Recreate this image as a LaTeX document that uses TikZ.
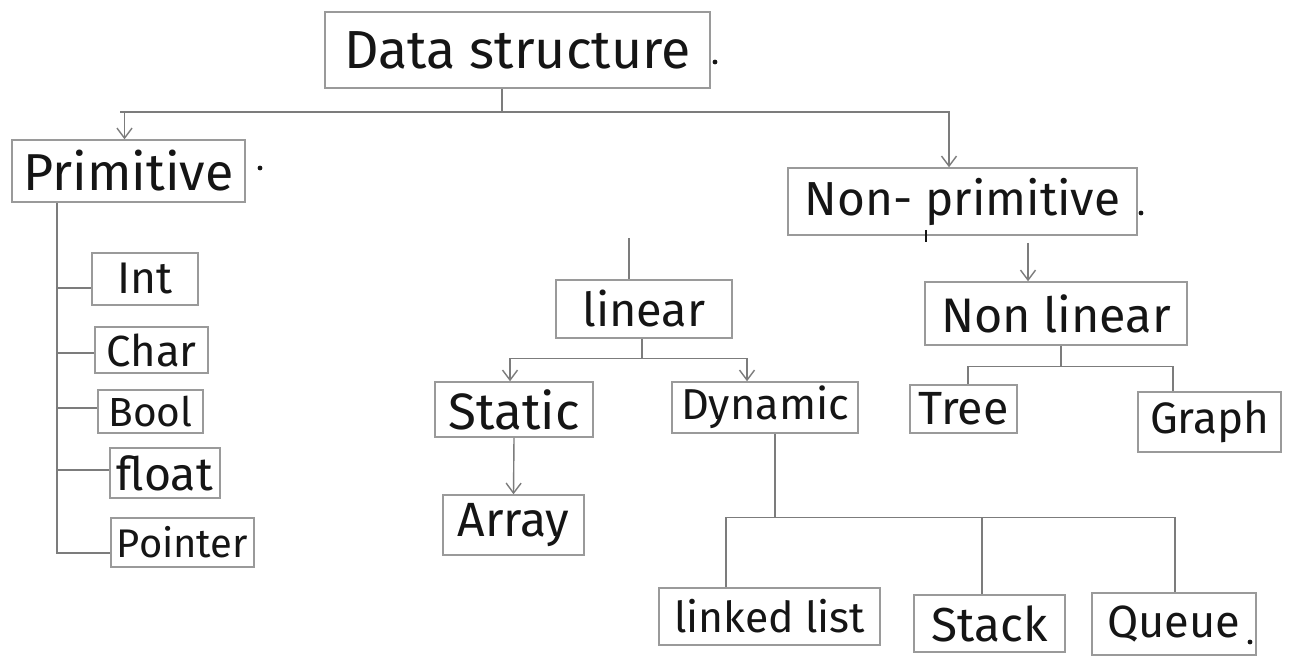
\documentclass[tikz,border=0pt]{standalone}
\usepackage{fontspec}
\setmainfont{Fira Sans}
\usepackage{graphicx}
\usetikzlibrary{arrows.meta}

\definecolor{ink}{HTML}{151515}
\definecolor{pencil}{HTML}{9A9A9A}
\definecolor{lead}{HTML}{7C7C7C}

% label scaled to a given width (in pt)
\newcommand\handw[2]{\resizebox{#1pt}{!}{#2}}

\tikzset{
  box/.style={draw=pencil, line width=1.5pt, inner sep=0pt, text=ink},
  link/.style={draw=lead, line width=1.4pt},
  arr/.style={link, -{Straight Barb[length=10pt,width=15pt,line width=1.4pt]}},
}

\begin{document}
\begin{tikzpicture}[x=1pt,y=-1pt]
\useasboundingbox[fill=white] (0,0) rectangle (1291,659);

% ---- boxes ----
\node[box, minimum width=385pt, minimum height=76pt] (ds) at (517.5,50) {\handw{346}{Data structure}};
\node[box, minimum width=233pt, minimum height=62pt] (prim) at (128.5,171) {\handw{210}{Primitive}};
\node[box, minimum width=349pt, minimum height=67pt] (nonprim) at (962.5,201.5) {\handw{315}{Non- primitive}};
\node[box, minimum width=262pt, minimum height=63pt] (nonlin) at (1056,313.5) {\handw{230}{Non linear}};
\node[box, minimum width=176pt, minimum height=58pt] (lin) at (644,309) {\handw{123}{linear}};
\node[box, minimum width=158pt, minimum height=55pt] (static) at (514,409.5) {\handw{131}{Static}};
\node[box, minimum width=141pt, minimum height=60pt] (array) at (513.5,525) {\handw{112}{Array}};
\node[box, minimum width=186pt, minimum height=51pt] (dyn) at (765,407.5) {\handw{168}{Dynamic}};
\node[box, minimum width=107pt, minimum height=48pt] (tree) at (963.5,409) {\handw{90}{Tree}};
\node[box, minimum width=143pt, minimum height=60pt] (graph) at (1209.5,422) {\handw{119}{Graph}};
\node[box, minimum width=221pt, minimum height=57pt] (ll) at (769.5,616.5) {\handw{191}{linked list}};
\node[box, minimum width=151pt, minimum height=57pt] (stack) at (989.5,623.5) {\handw{116}{Stack}};
\node[box, minimum width=164pt, minimum height=62pt] (queue) at (1174,624) {\handw{133}{Queue}};
\node[box, minimum width=106pt, minimum height=52pt] (int) at (145,279) {\handw{55}{Int}};
\node[box, minimum width=113pt, minimum height=46pt] (char) at (151.5,350) {\handw{90}{Char}};
\node[box, minimum width=105pt, minimum height=43pt] (bool) at (150.5,411.5) {\handw{84}{Bool}};
\node[box, minimum width=110pt, minimum height=50pt] (float) at (165,473) {\handw{96}{float}};
\node[box, minimum width=143pt, minimum height=49pt] (pointer) at (182.5,542.5) {\handw{131}{Pointer}};

% full stops written after some labels
\fill[ink] (715,62) circle (2.4pt);
\fill[ink] (260,168) circle (2.4pt);
\fill[ink] (1141,213) circle (2.4pt);
\fill[ink] (1250,642) circle (2.4pt);

% ---- Data structure -> Primitive / Non-primitive ----
\coordinate (dsbus) at (502,112);
\draw[link] (ds.south -| dsbus) -- (dsbus);
\draw[link] (dsbus) -- (120,112);
\draw[arr] (dsbus) -| ([xshift=-4pt]prim.north);
\draw[arr] (dsbus) -| ([xshift=-13.5pt]nonprim.north);

% ---- Primitive -> its members ----
\coordinate (ptop) at ([xshift=-71.5pt]prim.south);
\path ([yshift=-9pt]int.west) coordinate (intin)
      ([yshift=-3pt]char.west) coordinate (charin)
      ([yshift=3.5pt]bool.west) coordinate (boolin)
      ([yshift=3pt]float.west) coordinate (floatin)
      ([yshift=-10.5pt]pointer.west) coordinate (pointerin);
\draw[link] (ptop) |- (pointerin);
\draw[link] (ptop |- intin) -- (intin);
\draw[link] (ptop |- charin) -- (charin);
\draw[link] (ptop |- boolin) -- (boolin);
\draw[link] (ptop |- floatin) -- (floatin);

% ---- Non-primitive -> Non linear, linear ----
\draw[arr, shorten <=7pt] ([xshift=-28pt]nonlin.north |- nonprim.south) -- ([xshift=-28pt]nonlin.north);
\draw[ink, line width=1.2pt] ([xshift=-36.5pt]nonprim.south) ++(0,-6) -- ++(0,12);
\coordinate (linstub) at (629,238);
\draw[link] (linstub) -- (linstub |- lin.north);

% ---- linear -> Static / Dynamic ----
\path (lin.south) ++(-2,20) coordinate (linbus);
\draw[link] (lin.south -| linbus) -- (linbus);
\draw[arr] (linbus) -| ([xshift=-4pt]static.north);
\draw[arr] (linbus) -| ([xshift=-18pt]dyn.north);
\draw[arr] (static.south) -- (array.north);

% ---- Non linear -> Tree / Graph ----
\path ([xshift=5pt]nonlin.south) ++(0,21) coordinate (nlbus);
\draw[link] (nlbus |- nonlin.south) -- (nlbus);
\draw[link] (nlbus) -| ([xshift=4.5pt]tree.north);
\draw[link] (nlbus) -| ([xshift=-36.5pt]graph.north);

% ---- Dynamic -> linked list / Stack / Queue ----
\path ([xshift=10pt]dyn.south) ++(0,84) coordinate (dbus);
\draw[link] (dbus |- dyn.south) -- (dbus);
\draw[link] (dbus) -| ([xshift=-43.5pt]ll.north);
\draw[link] (dbus) -| ([xshift=-7.5pt]stack.north);
\draw[link] (dbus) -| ([xshift=1pt]queue.north);
\end{tikzpicture}
\end{document}
